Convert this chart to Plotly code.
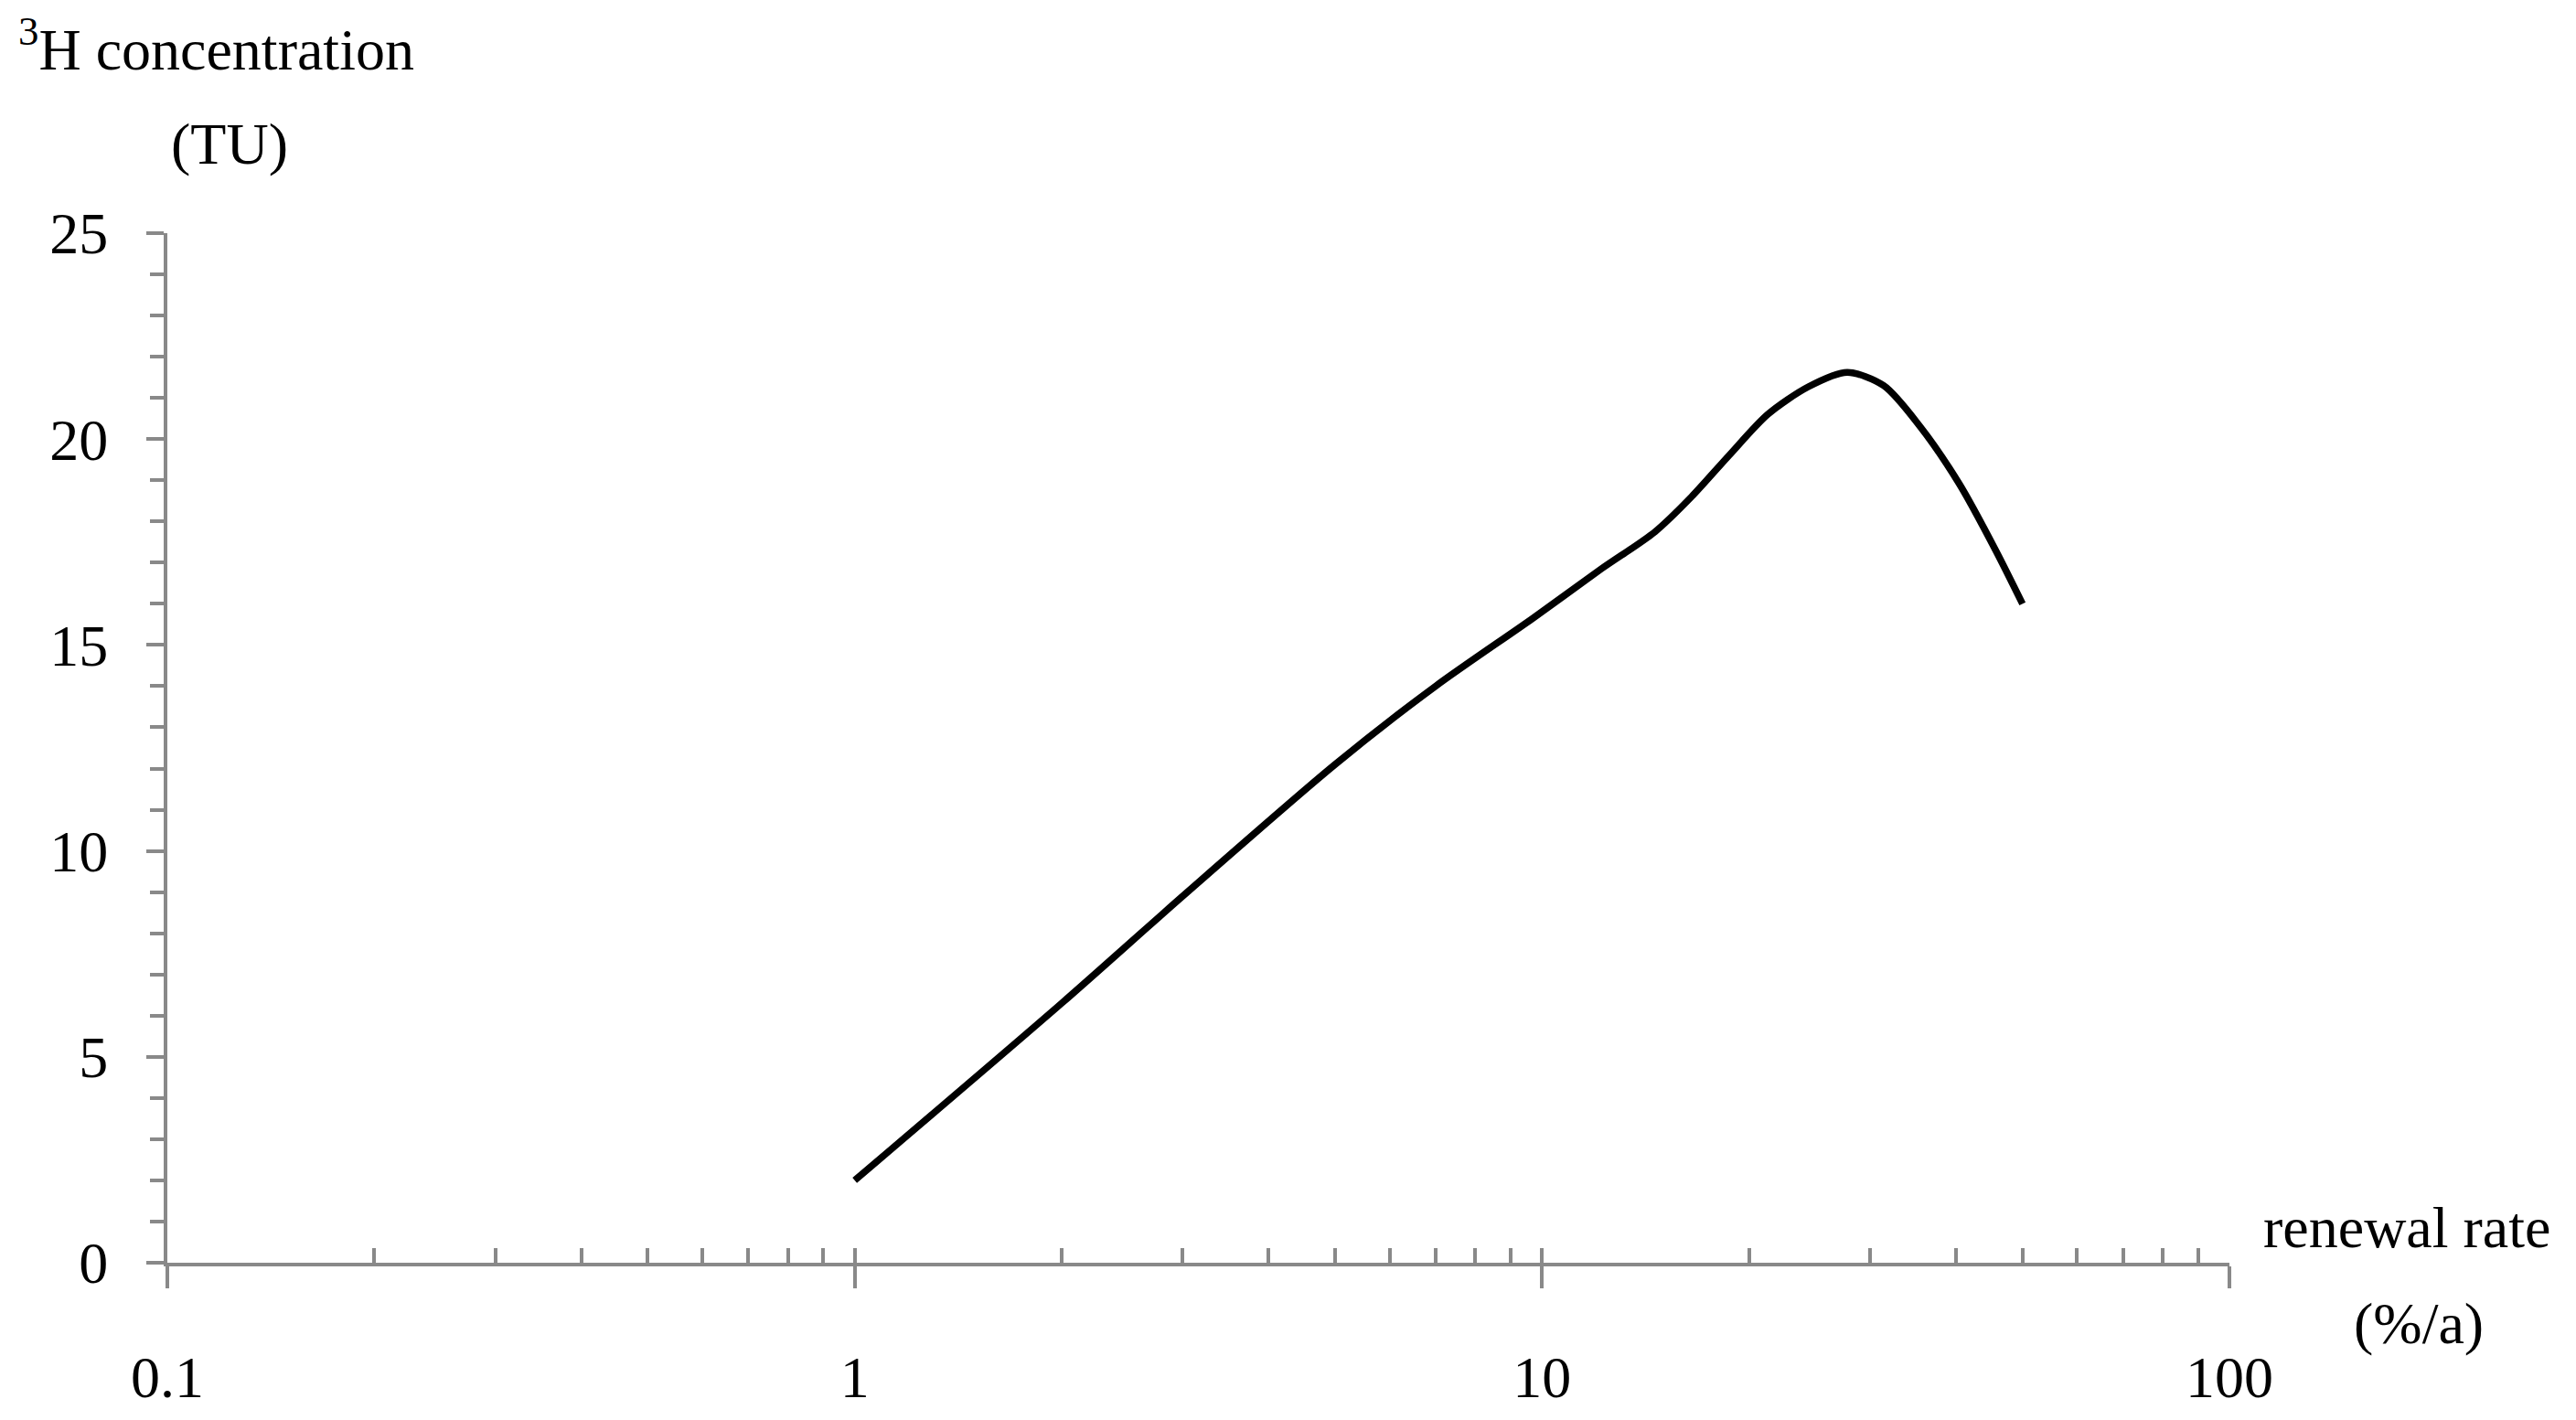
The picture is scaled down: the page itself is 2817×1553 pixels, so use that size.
import plotly.graph_objects as go

# renewal rate (%/a) and 3H concentration (TU)
renewal_rate = [1, 2, 3, 5, 7, 9.7, 12.2, 14.6, 16.5, 18.7, 21.3, 24.4, 27.8, 31.4, 35.5, 40.5, 45.8, 50]
tritium_tu = [2.0, 6.3, 8.9, 12.1, 14.0, 15.65, 16.85, 17.75, 18.6, 19.6, 20.6, 21.27, 21.62, 21.3, 20.3, 18.9, 17.27, 16.0]

x_major = [0.1, 1, 10, 100]
x_major_text = ["0.1", "1", "10", "100"]
x_minor = [m * d for d in (0.1, 1, 10) for m in range(1, 10)] + [100]
y_major = [0, 5, 10, 15, 20, 25]

AXIS = "#898989"
FONT = "Liberation Serif"
# page body has an 8px margin, so the figure is a bit smaller than the window
W, H = 2801, 1537
L, R, T, B = 175, 371, 247, 164

fig = go.Figure()

fig.add_trace(go.Scatter(
    x=renewal_rate, y=tritium_tu,
    mode="lines",
    line=dict(color="black", width=7.5, shape="spline", smoothing=0.8),
    hoverinfo="x+y",
    showlegend=False,
))

# invisible trace so the overlay axis (inner tick marks) gets drawn
fig.add_trace(go.Scatter(
    x=[1], y=[0], xaxis="x2", mode="markers",
    marker=dict(opacity=0), hoverinfo="skip", showlegend=False,
))

fig.update_layout(
    width=W, height=H,
    margin=dict(l=L, r=R, t=T, b=B, pad=0, autoexpand=False),
    plot_bgcolor="white", paper_bgcolor="white",
    font=dict(family=FONT, size=64, color="black"),
    xaxis=dict(
        type="log", range=[-1, 2], automargin=False,
        showgrid=False, zeroline=False,
        showline=True, linecolor=AXIS, linewidth=4,
        tickmode="array", tickvals=x_major, ticktext=x_major_text,
        ticks="outside", ticklen=24, tickwidth=4, tickcolor=AXIS,
        ticklabelstandoff=42,
    ),
    xaxis2=dict(
        type="log", range=[-1, 2], overlaying="x", automargin=False,
        showgrid=False, zeroline=False, showline=False,
        tickmode="array", tickvals=x_minor,
        ticks="inside", ticklen=16, tickwidth=4, tickcolor=AXIS,
        showticklabels=False,
    ),
    yaxis=dict(
        range=[0, 25], automargin=False,
        showgrid=False, zeroline=False,
        showline=True, linecolor=AXIS, linewidth=4,
        tickmode="array", tickvals=y_major,
        ticks="outside", ticklen=19, tickwidth=4, tickcolor=AXIS,
        minor=dict(dtick=1, ticks="outside", ticklen=15, tickwidth=4, tickcolor=AXIS),
        ticklabelstandoff=29,
    ),
    annotations=[
        dict(text="<sup>3</sup>H concentration", xref="paper", yref="paper",
             x=-0.0732, y=1.1825, xanchor="left", yanchor="middle", showarrow=False),
        dict(text="(TU)", xref="paper", yref="paper",
             x=0.0302, y=1.087, xanchor="center", yanchor="middle", showarrow=False),
        dict(text="renewal rate", xref="paper", yref="paper",
             x=1.086, y=0.034, xanchor="center", yanchor="middle", showarrow=False),
        dict(text="(%/a)", xref="paper", yref="paper",
             x=1.0918, y=-0.0595, xanchor="center", yanchor="middle", showarrow=False),
    ],
)

fig.write_html("out.html")
